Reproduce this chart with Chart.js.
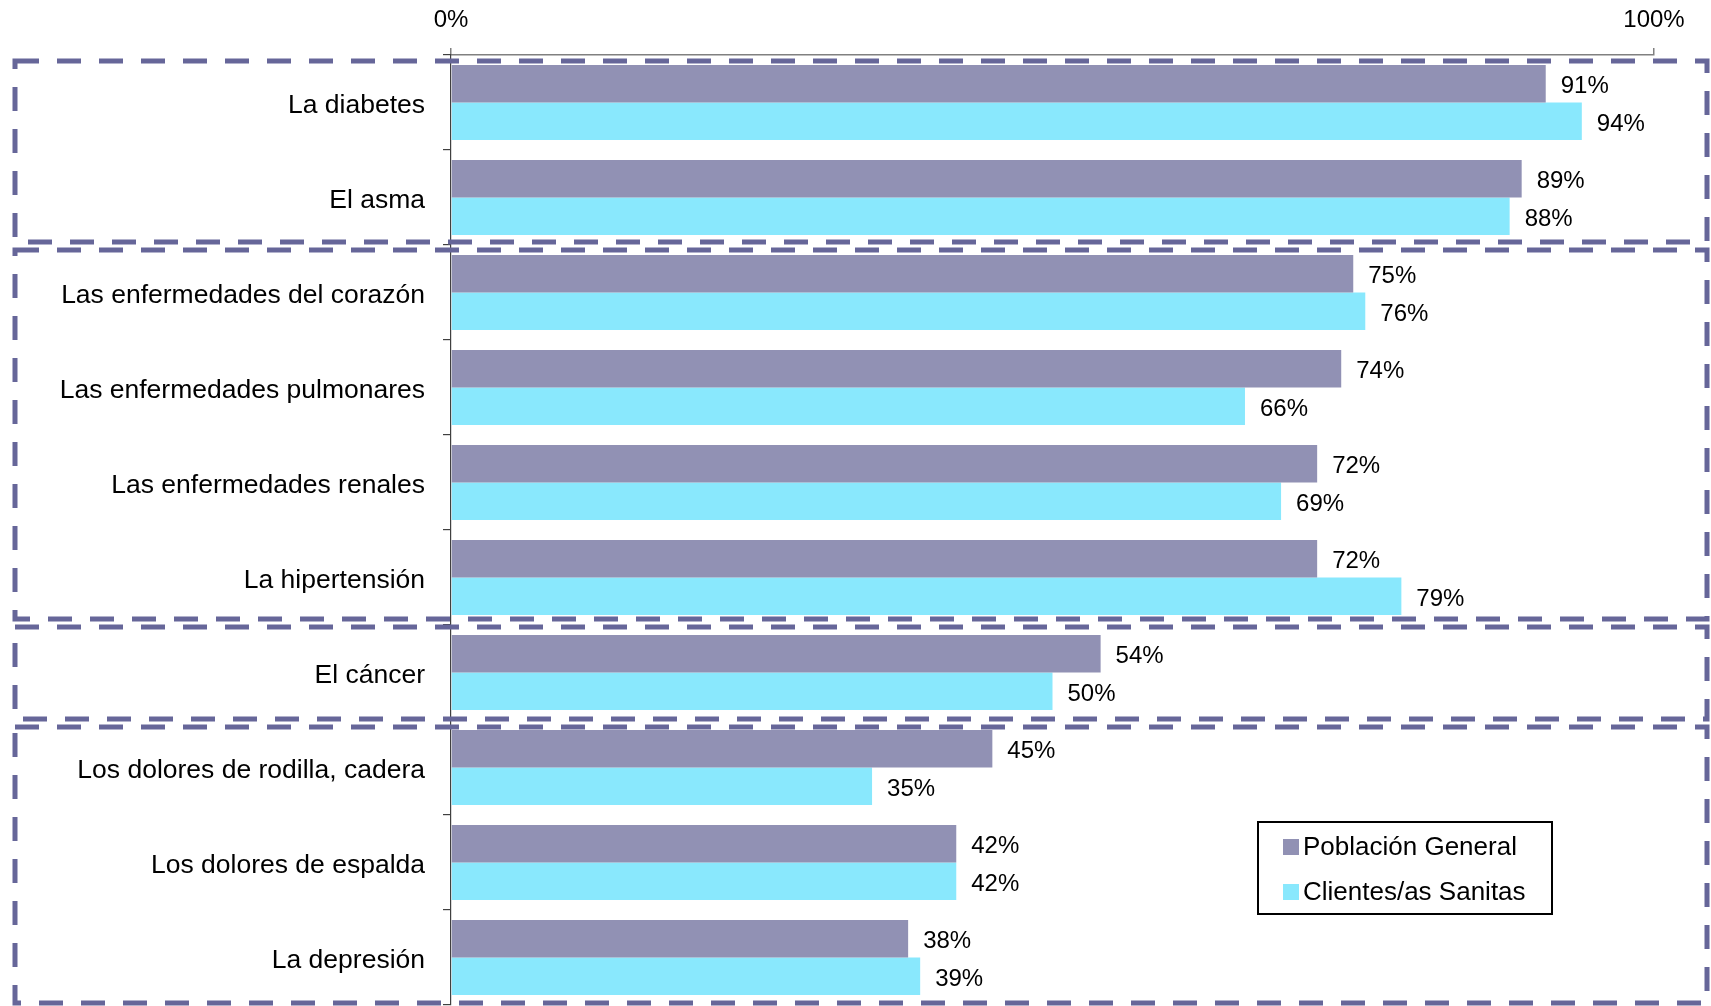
<!DOCTYPE html>
<html>
<head>
<meta charset="utf-8">
<script src="https://cdn.jsdelivr.net/npm/chart.js@4"></script>
<style>
  html, body { margin: 0; padding: 0; background: #fff; overflow: hidden; }
  canvas { display: block; }
</style>
</head>
<body>
<canvas id="chart" width="1711" height="1006"></canvas>
<script>
// data
const categories = [
  'La diabetes',
  'El asma',
  'Las enfermedades del corazón',
  'Las enfermedades pulmonares',
  'Las enfermedades renales',
  'La hipertensión',
  'El cáncer',
  'Los dolores de rodilla, cadera',
  'Los dolores de espalda',
  'La depresión'
];
const poblacionGeneral = [91, 89, 75, 74, 72, 72, 54, 45, 42, 38];
const clientesSanitas = [94, 88, 76, 66, 69, 79, 50, 35, 42, 39];
const seriesNames = ['Población General', 'Clientes/as Sanitas'];
const xTicks = [0, 100];
// first and last category of each dashed group
const groups = [[0, 1], [2, 5], [6, 6], [7, 9]];

const FONT = 'Arial, "Liberation Sans", sans-serif';
const colors = ['#9191B4', '#89E8FD'];
const boxColor = '#666699';
// top / bottom inset of each dashed box, px
const boxInsets = [[6, 3], [5, 6], [2, 1], [7, 2]];

const valueLabels = {
  id: 'valueLabels',
  afterDatasetsDraw(chart) {
    const ctx = chart.ctx;
    ctx.save();
    ctx.font = '24px ' + FONT;
    ctx.fillStyle = '#000';
    ctx.textAlign = 'left';
    ctx.textBaseline = 'middle';
    chart.data.datasets.forEach((ds, i) => {
      chart.getDatasetMeta(i).data.forEach((bar, j) => {
        ctx.fillText(ds.data[j] + '%', bar.x + 15, bar.y + 3);
      });
    });
    ctx.restore();
  }
};

const dashedBoxes = {
  id: 'dashedBoxes',
  afterDraw(chart) {
    const ctx = chart.ctx;
    const y = chart.scales.y;
    const half = (y.getPixelForValue(1) - y.getPixelForValue(0)) / 2;
    ctx.save();
    ctx.strokeStyle = boxColor;
    ctx.lineWidth = 5;
    ctx.setLineDash([24, 18]);
    groups.forEach((g, k) => {
      const top = y.getPixelForValue(g[0]) - half + boxInsets[k][0];
      const bottom = y.getPixelForValue(g[1]) + half - boxInsets[k][1];
      ctx.strokeRect(15, top, chart.width - 19, bottom - top);
    });
    ctx.restore();
  }
};

const boxLegend = {
  id: 'boxLegend',
  afterDraw(chart) {
    const ctx = chart.ctx;
    const a = chart.chartArea;
    const x = a.right - 396, yTop = a.bottom - 183, w = 294, h = 92;
    ctx.save();
    ctx.fillStyle = '#fff';
    ctx.fillRect(x, yTop, w, h);
    ctx.strokeStyle = '#000';
    ctx.lineWidth = 2;
    ctx.strokeRect(x, yTop, w, h);
    ctx.font = '26px ' + FONT;
    ctx.textBaseline = 'middle';
    ctx.textAlign = 'left';
    seriesNames.forEach((name, i) => {
      const cy = yTop + 25 + i * 45;
      ctx.fillStyle = colors[i];
      ctx.fillRect(x + 25, cy - 8, 16, 16);
      ctx.fillStyle = '#000';
      ctx.fillText(name, x + 45, cy + 1);
    });
    ctx.restore();
  }
};

new Chart(document.getElementById('chart'), {
  type: 'bar',
  data: {
    labels: categories,
    datasets: [
      { label: seriesNames[0], data: poblacionGeneral, backgroundColor: colors[0] },
      { label: seriesNames[1], data: clientesSanitas, backgroundColor: colors[1] }
    ]
  },
  options: {
    indexAxis: 'y',
    responsive: false,
    animation: false,
    categoryPercentage: 0.79,
    barPercentage: 1,
    layout: { padding: { left: 0, right: 57, top: 0, bottom: 1 } },
    plugins: {
      legend: { display: false },
      tooltip: { enabled: false }
    },
    scales: {
      x: {
        position: 'top',
        min: 0,
        max: 100,
        afterBuildTicks: s => { s.ticks = xTicks.map(v => ({ value: v })); },
        afterFit: s => { s.height = 55; s.paddingLeft = 0; s.paddingRight = 0; },
        ticks: {
          callback: v => v + '%',
          font: { size: 24, family: FONT },
          color: '#000',
          padding: 13,
          maxRotation: 0
        },
        grid: { drawOnChartArea: false, tickLength: 7, color: '#808080', lineWidth: 1.5 },
        border: { color: '#808080', width: 1.5 }
      },
      y: {
        afterFit: s => { s.width = 451; s.paddingTop = 0; s.paddingBottom = 0; },
        ticks: {
          font: { size: 26.5, family: FONT },
          color: '#000',
          padding: 18,
          labelOffset: 3
        },
        grid: { drawOnChartArea: false, offset: true, tickLength: 8, color: '#404040', lineWidth: 1.2 },
        border: { color: '#404040', width: 1.2 }
      }
    }
  },
  plugins: [valueLabels, dashedBoxes, boxLegend]
});
</script>
</body>
</html>
